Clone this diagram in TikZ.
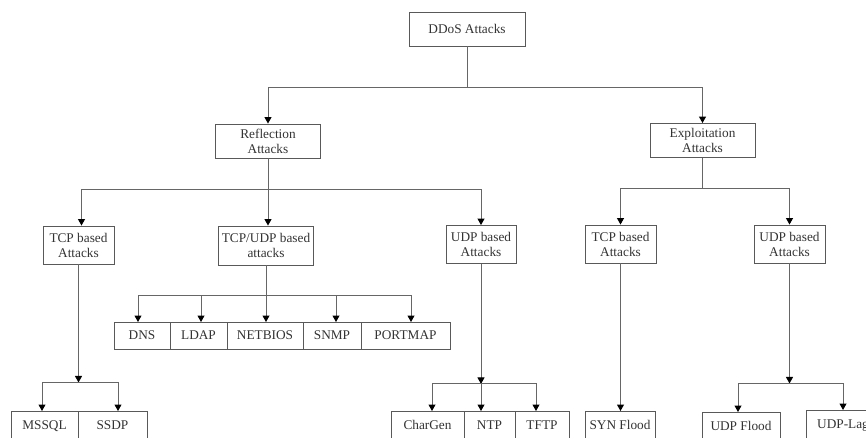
\documentclass[tikz,border=0pt]{standalone}
\usepackage{fontspec}
\setmainfont{Liberation Serif}
\usetikzlibrary{arrows.meta}
\begin{document}
\begin{tikzpicture}[x=1pt,y=-1pt,
  every node/.style={font=\fontsize{13.3}{15}\selectfont, text=black!80},
  box/.style={draw=black!65, line width=0.9pt, inner sep=0pt, align=center},
  mid/.style={box, minimum width=71pt, minimum height=38pt},
  rowbox/.style={box, minimum height=27pt, anchor=west, outer sep=0pt},
  cutbox/.style={box, anchor=north west, text height=18pt, text depth=30pt, outer sep=0pt},
  ln/.style={draw=black!60, line width=1pt},
  arr/.style={ln, -{Triangle[length=6.5pt,width=7pt,color=black]}},
  ]
\useasboundingbox (0,0) rectangle (866,438);
\clip (0,0) rectangle (866,438);

% nodes
\node[box, minimum width=116pt, minimum height=34pt] (ddos) at (467,29) {DDoS Attacks};
\node[box, minimum width=105pt, minimum height=34pt] (refl) at (268,141) {Reflection\\Attacks};
\node[box, minimum width=105pt, minimum height=34pt] (expl) at (702.5,140.5) {Exploitation\\Attacks};
\node[mid] (tcpa) at (78.5,245) {TCP based\\Attacks};
\node[box, minimum width=95pt, minimum height=39pt] (tu) at (266,245.5) {TCP/UDP based\\attacks};
\node[mid, minimum width=70pt] (udpa) at (481,244.5) {UDP based\\Attacks};
\node[mid] (tcpb) at (620.5,244) {TCP based\\Attacks};
\node[mid] (udpb) at (789.5,244) {UDP based\\Attacks};

\node[rowbox, minimum width=56pt] (dns) at (114,335.5) {DNS};
\node[rowbox, minimum width=57pt] (ldap) at (dns.east) {LDAP};
\node[rowbox, minimum width=76pt] (netbios) at (ldap.east) {NETBIOS};
\node[rowbox, minimum width=58pt] (snmp) at (netbios.east) {SNMP};
\node[rowbox, minimum width=89pt] (portmap) at (snmp.east) {PORTMAP};

\node[cutbox, minimum width=67pt] (mssql) at (11,411) {MSSQL};
\node[cutbox, minimum width=69pt] (ssdp) at (mssql.north east) {SSDP};
\node[cutbox, minimum width=73pt] (chargen) at (391,411) {CharGen};
\node[cutbox, minimum width=51pt] (ntp) at (chargen.north east) {NTP};
\node[cutbox, minimum width=54pt] (tftp) at (ntp.north east) {TFTP};
\node[cutbox, minimum width=70pt] (syn) at (585,411) {SYN Flood};
\node[cutbox, minimum width=78pt] (udpf) at (702,412) {UDP Flood};
\node[cutbox, minimum width=74pt] (udpl) at (806,410) {UDP-Lag};

% connectors
\draw[ln] (ddos.south) -- ++(0,41) coordinate (j0);
\draw[arr] (j0) -| (refl.north);
\draw[arr] (j0) -| (expl.north);

\draw[ln] (refl.south) -- ++(0,31) coordinate (j1);
\draw[arr] (j1) -| ([xshift=3pt]tcpa.north);
\draw[arr] (j1) -- (j1 |- tu.north);
\draw[arr] (j1) -| (udpa.north);

\draw[ln] (expl.south) -- ++(0,31) coordinate (j2);
\draw[arr] (j2) -| (tcpb.north);
\draw[arr] (j2) -| (udpb.north);

\draw[ln] (tu.south) -- ++(0,30) coordinate (j3);
\draw[arr] (j3) -| ([xshift=-4pt]dns.north);
\draw[arr] (j3) -| ([xshift=2.5pt]ldap.north);
\draw[arr] (j3) -- (j3 |- netbios.north);
\draw[arr] (j3) -| ([xshift=4pt]snmp.north);
\draw[arr] (j3) -| ([xshift=5.5pt]portmap.north);

\draw[arr] (tcpa.south) -- ++(0,118) coordinate (j4);
\draw[arr] (j4) -| ([xshift=-2.5pt]mssql.north);
\draw[arr] (j4) -| ([xshift=5.5pt]ssdp.north);

\draw[arr] (udpa.south) -- ++(0,120) coordinate (j5);
\draw[arr] (j5) -| ([xshift=4.5pt]chargen.north);
\draw[arr] (j5) -- (j5 |- ntp.north);
\draw[arr] (j5) -| ([xshift=-6pt]tftp.north);

\draw[arr] (tcpb.south) -- (tcpb.south |- syn.north);

\draw[arr] (udpb.south) -- ++(0,120) coordinate (j6);
\draw[arr] (j6) -| ([xshift=-3pt]udpf.north);
\draw[arr] (j6) -| (udpl.north);
\end{tikzpicture}
\end{document}
